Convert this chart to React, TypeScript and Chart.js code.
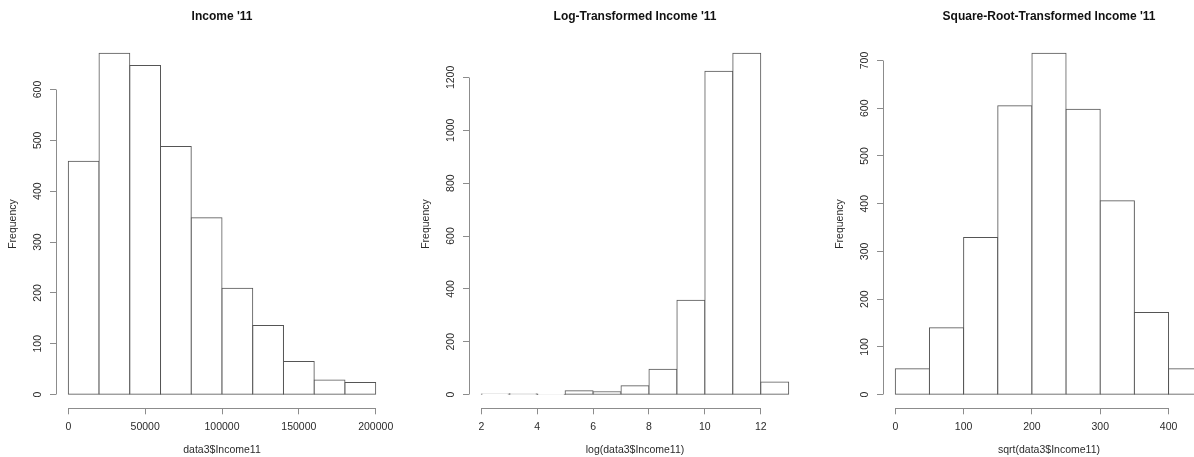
import React, { useEffect, useRef } from "react";
import { Chart, registerables } from "chart.js";

Chart.register(...registerables);

const FONT = "'Liberation Sans', Arial, Helvetica, sans-serif";
const TEXT = "#2b2b2b";
const AXIS = "#8c8c8c";
const BAR_LINE = "#555555";

// ---- Data ----
const panelTitles = ["Income '11", "Log-Transformed Income '11", "Square-Root-Transformed Income '11"];
const xAxisTitles = ["data3$Income11", "log(data3$Income11)", "sqrt(data3$Income11)"];
const yAxisTitle = "Frequency";

const incomeBreaks = [0, 20000, 40000, 60000, 80000, 100000, 120000, 140000, 160000, 180000, 200000];
const incomeCounts = [459, 671, 647, 488, 348, 209, 136, 65, 29, 24];
const incomeXTicks = [0, 50000, 100000, 150000, 200000];
const incomeYTicks = [0, 100, 200, 300, 400, 500, 600];

const logBreaks = [2, 3, 4, 5, 6, 7, 8, 9, 10, 11, 12, 13];
const logCounts = [2, 3, 1, 15, 11, 34, 96, 357, 1223, 1291, 48];
const logXTicks = [2, 4, 6, 8, 10, 12];
const logYTicks = [0, 200, 400, 600, 800, 1000, 1200];

const sqrtBreaks = [0, 50, 100, 150, 200, 250, 300, 350, 400, 450];
const sqrtCounts = [54, 140, 329, 605, 715, 598, 406, 172, 54];
const sqrtXTicks = [0, 100, 200, 300, 400];
const sqrtYTicks = [0, 100, 200, 300, 400, 500, 600, 700];

const panelLefts = [0, 413, 827];

// ---- Layout constants ----
const CANVAS_W = 413;
const CANVAS_H = 457;
const Y_AXIS_W = 56;
const PLOT_W = 332;
const X_AXIS_H = 48.7;
const TICK_FONT = 10.5;

function measureText(text: string, font: string): number {
  const c = document.createElement("canvas").getContext("2d");
  if (!c) return text.length * 6;
  c.font = font;
  return c.measureText(text).width;
}

const rAxesPlugin = {
  id: "rAxes",
  afterDraw(chart: any) {
    const { ctx } = chart;
    const x = chart.scales.x;
    const y = chart.scales.y;
    ctx.save();
    ctx.strokeStyle = AXIS;
    ctx.lineWidth = 1;
    const al = (v: number) => Math.round(v - 0.5) + 0.5;
    const xt = x.ticks;
    const yb = al(x.top);
    ctx.beginPath();
    ctx.moveTo(al(x.getPixelForValue(xt[0].value)), yb);
    ctx.lineTo(al(x.getPixelForValue(xt[xt.length - 1].value)), yb);
    ctx.stroke();
    const yt = y.ticks;
    const xl = al(y.right);
    ctx.beginPath();
    ctx.moveTo(xl, al(y.getPixelForValue(yt[0].value)));
    ctx.lineTo(xl, al(y.getPixelForValue(yt[yt.length - 1].value)));
    ctx.stroke();
    ctx.restore();
  },
};

type PanelProps = {
  title: string;
  xTitle: string;
  breaks: number[];
  counts: number[];
  xTicks: number[];
  yTicks: number[];
  left: number;
};

function Histogram(props: PanelProps) {
  const ref = useRef<HTMLCanvasElement | null>(null);
  useEffect(() => {
    if (!ref.current) return;
    const { title, xTitle, breaks, counts, xTicks, yTicks } = props;
    const maxCount = Math.max(...counts);
    const lo = breaks[0];
    const hi = breaks[breaks.length - 1];
    const span = hi - lo;
    const widest = Math.max(...yTicks.map((v) => measureText(String(v), `${TICK_FONT}px ${FONT}`)));
    const yPad = Math.max(0, 12 - widest / 2);

    const chart = new Chart(ref.current, {
      type: "bar",
      data: {
        datasets: [
          {
            data: counts.map((c, i) => ({ x: (breaks[i] + breaks[i + 1]) / 2, y: c })),
            backgroundColor: "#ffffff",
            borderColor: BAR_LINE,
            borderWidth: 1,
            borderSkipped: false,
            inflateAmount: 0.5,
            barPercentage: 1,
            categoryPercentage: 1,
          } as any,
        ],
      },
      options: {
        animation: false,
        responsive: false,
        devicePixelRatio: 1,
        layout: { autoPadding: false, padding: { left: 0, top: 0, bottom: 0, right: CANVAS_W - Y_AXIS_W - PLOT_W } } as any,
        plugins: {
          legend: { display: false },
          tooltip: { enabled: false },
          title: {
            display: true,
            text: title,
            fullSize: false,
            color: "#111111",
            font: { family: FONT, size: 12, weight: "bold" },
            padding: { top: 9, bottom: 16.3 },
          },
        },
        scales: {
          x: {
            type: "linear",
            offset: false,
            min: lo - 0.04 * span,
            max: hi + 0.04 * span,
            afterBuildTicks: (s: any) => {
              s.ticks = xTicks.map((v) => ({ value: v }));
            },
            afterFit: (s: any) => {
              s.height = X_AXIS_H;
            },
            grid: { display: true, offset: false, drawOnChartArea: false, drawTicks: true, tickLength: 6, color: AXIS, lineWidth: 1 },
            border: { display: false },
            ticks: {
              autoSkip: false,
              minRotation: 0,
              maxRotation: 0,
              padding: 7,
              color: TEXT,
              font: { family: FONT, size: TICK_FONT },
              callback: (v: any) => String(v),
            },
            title: {
              display: true,
              text: xTitle,
              color: TEXT,
              font: { family: FONT, size: TICK_FONT },
              padding: { top: 0, bottom: 0.8 },
            },
          },
          y: {
            type: "linear",
            min: -0.04 * maxCount,
            max: 1.04 * maxCount,
            afterBuildTicks: (s: any) => {
              s.ticks = yTicks.map((v) => ({ value: v }));
            },
            afterFit: (s: any) => {
              s.width = Y_AXIS_W;
            },
            grid: { display: true, drawOnChartArea: false, drawTicks: true, tickLength: 6, color: AXIS, lineWidth: 1 },
            border: { display: false },
            ticks: {
              autoSkip: false,
              minRotation: 90,
              maxRotation: 90,
              crossAlign: "center",
              padding: yPad,
              color: TEXT,
              font: { family: FONT, size: TICK_FONT },
              callback: (v: any) => String(v),
            },
            title: {
              display: true,
              text: yAxisTitle,
              color: TEXT,
              font: { family: FONT, size: TICK_FONT },
              padding: { top: 6.7, bottom: 0 },
            },
          },
        },
      } as any,
      plugins: [rAxesPlugin],
    });
    return () => chart.destroy();
  }, []);

  return (
    <canvas
      ref={ref}
      width={CANVAS_W}
      height={CANVAS_H}
      style={{ position: "absolute", left: props.left, top: 0, width: CANVAS_W, height: CANVAS_H }}
    />
  );
}

export default function App() {
  return (
    <div
      style={{
        position: "fixed",
        left: 0,
        top: 0,
        width: 1194,
        height: 457,
        overflow: "hidden",
        background: "#ffffff",
      }}
    >
      <Histogram
        title={panelTitles[0]}
        xTitle={xAxisTitles[0]}
        breaks={incomeBreaks}
        counts={incomeCounts}
        xTicks={incomeXTicks}
        yTicks={incomeYTicks}
        left={panelLefts[0]}
      />
      <Histogram
        title={panelTitles[1]}
        xTitle={xAxisTitles[1]}
        breaks={logBreaks}
        counts={logCounts}
        xTicks={logXTicks}
        yTicks={logYTicks}
        left={panelLefts[1]}
      />
      <Histogram
        title={panelTitles[2]}
        xTitle={xAxisTitles[2]}
        breaks={sqrtBreaks}
        counts={sqrtCounts}
        xTicks={sqrtXTicks}
        yTicks={sqrtYTicks}
        left={panelLefts[2]}
      />
    </div>
  );
}
